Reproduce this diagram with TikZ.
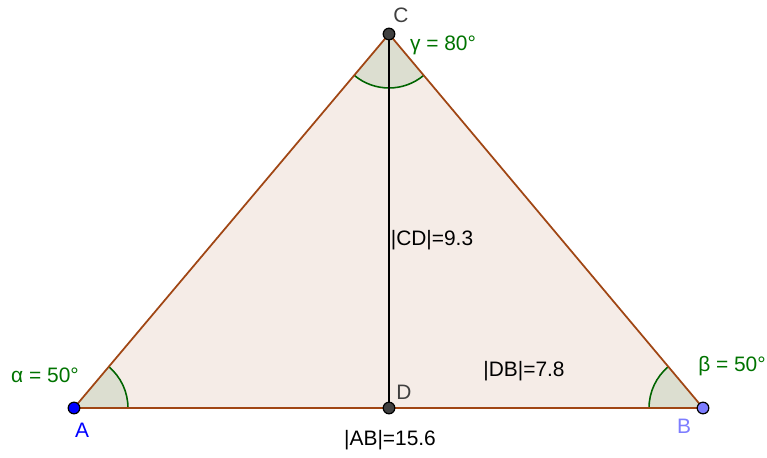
\documentclass[tikz,border=0pt]{standalone}
\usepackage{fontspec}
\setmainfont{Liberation Sans}
\usetikzlibrary{angles}
\definecolor{edgebrown}{RGB}{160,70,20}
\definecolor{anggreen}{RGB}{0,100,0}
\definecolor{labgreen}{RGB}{0,115,0}
\definecolor{ptgrey}{RGB}{64,64,64}
\definecolor{lightblue}{RGB}{125,125,255}
\tikzset{
  edge/.style    = {draw=edgebrown, line width=1pt},
  height/.style  = {draw=black, line width=1pt},
  ang/.style     = {draw=anggreen, line width=0.9pt, fill=anggreen, fill opacity=0.1,
                    draw opacity=1, angle radius=1.08cm},
  pt/.style      = {circle, draw=black, line width=0.7pt, inner sep=0pt, minimum size=6.6pt},
  lab/.style     = {font=\fontsize{11.9}{14}\selectfont, inner sep=0pt},
  anglab/.style  = {lab, text=labgreen},
}

\begin{document}
\begin{tikzpicture}[x=0.02cm, y=0.02cm]
      \useasboundingbox (0,0) rectangle (767,457);
      \coordinate (A) at (74,49);
      \coordinate (B) at (703,49);
      \coordinate (C) at (389,423);
      \coordinate (D) at (389,49);

      \fill[edgebrown, opacity=0.1] (A) -- (B) -- (C) -- cycle;
      \pic[ang] {angle = B--A--C};
      \pic[ang] {angle = C--B--A};
      \pic[ang] {angle = A--C--B};
      \draw[edge] (A) -- (B) -- (C) -- cycle;
      \draw[height] (C) -- (D);

      \node[pt, fill=blue]      (pA) at (A) {};
      \node[pt, fill=lightblue] (pB) at (B) {};
      \node[pt, fill=ptgrey]    (pC) at (C) {};
      \node[pt, fill=ptgrey]    (pD) at (D) {};

      \node[lab, text=blue]      (lA) at (82,27)  {A};
      \node[lab, text=lightblue] (lB) at (684,31) {B};
      \node[lab, text=ptgrey]    (lC) at (401,442) {C};
      \node[lab, text=ptgrey]    (lD) at (404,65) {D};

      \node[anglab] (alpha) at (45,82)   {α = 50°};
      \node[anglab] (beta)  at (732,91)  {β = 50°};
      \node[anglab] (gamma) at (443,412) {γ = 80°};

      \node[lab] (cd) at (432,217) {|CD|=9.3};
      \node[lab] (db) at (524,86)  {|DB|=7.8};
      \node[lab] (ab) at (390,17)  {|AB|=15.6};
    \end{tikzpicture}
\end{document}
